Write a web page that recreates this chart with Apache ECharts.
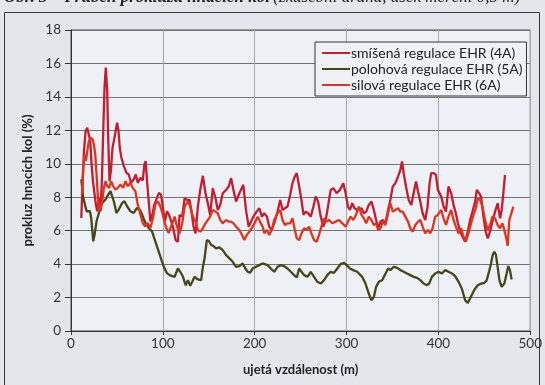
<!DOCTYPE html>
<html>
<head>
<meta charset="utf-8">
<script src="https://cdn.jsdelivr.net/npm/echarts@6/dist/echarts.min.js"></script>
<style>
  html, body { margin: 0; padding: 0; background: #e3e7ec; }
  #chart { width: 545px; height: 385px; }
</style>
</head>
<body>
<div id="chart"></div>
<script>
// Tick labels and axis extents
const xTicks = [0, 100, 200, 300, 400, 500];
const yTicks = [0, 2, 4, 6, 8, 10, 12, 14, 16, 18];

const seriesNames = [
  'smíšená regulace EHR (4A)',
  'polohová regulace EHR (5A)',
  'silová regulace EHR (6A)'
];

// [ujetá vzdálenost (m), prokluz (%)]
const mixed4A = [
  [11.2,6.76],[12.7,8.96],[14.1,10.76],[15.9,11.96],[17.7,12.16],[19.5,12.06],[21.0,11.36],[22.4,9.96],
  [23.9,8.96],[25.7,8.16],[27.1,7.56],[28.6,7.16],[30.4,7.96],[32.2,7.16],[33.6,8.96],[35.1,11.96],
  [36.5,14.56],[37.9,15.76],[39.4,14.36],[40.5,11.56],[41.9,8.96],[43.4,9.56],[45.2,10.96],[47.0,11.46],
  [48.4,11.56],[50.2,12.46],[51.7,11.96],[53.1,10.96],[54.9,10.36],[57.5,9.86],[60.4,9.46],[62.9,9.36],
  [65.4,8.86],[68.3,9.06],[70.5,9.36],[72.7,8.86],[75.6,9.16],[78.1,9.0],[79.9,9.96],[81.3,10.16],
  [82.8,8.96],[84.6,7.76],[86.4,6.56],[88.6,6.96],[90.7,7.56],[93.6,7.96],[95.8,8.26],[98.0,8.16],
  [100.1,7.36],[102.3,6.56],[104.5,7.16],[106.6,6.96],[111.0,6.24],[113.9,5.44],[116.4,5.34],[118.2,6.94],
  [121.1,6.84],[123.7,7.94],[126.2,7.84],[129.1,7.84],[130.9,7.24],[133.4,6.24],[135.6,5.84],[138.1,7.44],
  [140.7,8.44],[143.6,9.28],[146.4,8.24],[149.0,7.64],[151.5,6.94],[154.4,8.54],[157.3,7.94],[159.8,7.24],
  [162.4,7.54],[165.2,8.24],[168.9,8.44],[171.7,8.64],[174.3,9.14],[176.8,8.44],[179.7,7.74],[183.3,8.24],
  [187.6,8.74],[190.5,7.24],[193.4,6.24],[196.0,6.54],[198.5,6.84],[202.1,7.14],[205.0,7.34],[207.9,6.84],
  [210.4,7.04],[213.3,6.84],[215.8,6.24],[218.4,6.04],[221.2,6.44],[224.9,7.14],[227.8,7.84],[230.3,7.24],
  [232.8,7.34],[235.7,7.44],[238.6,8.14],[241.1,8.84],[243.7,9.24],[245.8,9.44],[248.4,8.64],[250.9,7.84],
  [253.1,6.94],[255.6,7.14],[258.1,7.04],[261.0,6.84],[263.9,7.44],[266.4,8.04],[269.0,7.74],[271.9,6.84],
  [274.7,6.24],[277.3,6.64],[279.8,7.44],[282.7,8.44],[285.6,8.54],[289.2,8.24],[292.8,8.44],[296.4,8.84],
  [299.0,8.24],[301.5,7.44],[303.7,7.24],[306.2,7.64],[308.7,7.34],[311.6,7.24],[316.3,7.34],[318.8,7.04],
  [321.4,7.14],[324.2,7.54],[327.1,7.74],[329.7,7.24],[332.2,6.64],[334.4,6.14],[336.9,6.54],[339.4,6.64],
  [342.3,6.44],[345.2,7.24],[347.7,7.84],[350.3,8.64],[353.2,8.84],[356.1,9.24],[358.6,9.64],[360.4,10.14],
  [362.2,9.44],[364.7,8.64],[367.6,7.84],[370.5,7.54],[373.0,8.24],[375.6,8.94],[377.8,8.34],[380.3,7.74],
  [382.8,7.04],[385.7,6.64],[388.2,7.44],[390.4,8.84],[392.2,9.44],[394.7,9.44],[397.3,9.34],[399.4,8.44],
  [403.1,8.04],[405.6,7.44],[408.2,7.14],[411.0,8.64],[413.9,8.24],[416.5,7.54],[419.0,7.04],[421.2,6.44],
  [423.7,5.94],[426.2,5.64],[429.1,5.34],[432.0,5.94],[434.5,6.64],[437.1,7.14],[440.0,7.74],[441.8,8.44],
  [444.3,8.24],[446.5,8.04],[449.0,6.84],[451.5,5.94],[453.7,5.54],[456.2,5.94],[458.8,6.54],[461.7,7.14],
  [464.5,7.64],[467.1,6.74],[468.9,7.24],[470.7,8.24],[472.5,9.34]
];

const position5A = [
  [11.2,9.06],[13.4,7.96],[14.8,7.86],[17.0,7.16],[18.4,7.26],[20.6,7.16],[22.0,6.76],[24.2,5.36],
  [25.7,5.76],[27.8,6.56],[30.4,7.06],[34.0,7.66],[37.6,7.86],[40.5,8.16],[43.0,8.36],[44.8,8.26],
  [46.6,7.76],[49.5,7.06],[52.0,7.26],[55.7,7.66],[58.2,7.76],[61.1,7.46],[64.7,7.16],[68.3,7.06],
  [71.9,7.36],[74.8,7.26],[77.4,6.96],[81.0,6.46],[84.6,6.16],[88.2,5.96],[91.8,5.36],[95.4,4.76],
  [99.0,4.16],[101.6,3.76],[104.5,3.46],[107.4,3.34],[112.8,3.24],[116.4,3.74],[119.0,3.54],[121.9,3.24],
  [124.8,2.74],[127.3,3.04],[129.8,2.70],[132.0,2.94],[134.5,3.24],[138.1,3.08],[141.7,3.04],[143.6,3.84],
  [145.4,4.34],[147.9,5.44],[150.1,5.38],[152.6,5.14],[155.1,5.08],[158.0,4.94],[161.6,5.0],[165.2,4.84],
  [168.9,4.54],[172.5,4.34],[176.1,4.14],[179.7,3.84],[183.3,3.88],[186.9,4.04],[189.8,3.74],[192.4,3.54],
  [194.9,3.48],[197.8,3.74],[201.4,3.84],[205.0,3.94],[208.6,4.04],[210.4,4.08],[214.0,3.94],[217.6,3.74],
  [221.2,3.54],[224.9,3.84],[228.5,3.94],[232.1,3.88],[235.7,3.74],[239.3,3.54],[242.9,3.34],[245.8,3.2],
  [248.4,3.74],[250.9,3.54],[253.8,3.34],[257.4,3.24],[261.0,3.54],[264.6,3.24],[268.2,2.94],[271.9,2.84],
  [275.5,3.04],[279.1,3.34],[282.7,3.54],[286.3,3.48],[289.9,3.74],[293.5,4.0],[297.2,4.08],[300.1,3.94],
  [303.7,3.74],[307.3,3.64],[311.6,3.54],[313.4,3.44],[317.0,3.24],[320.6,2.84],[324.2,2.24],[327.1,1.84],
  [329.7,2.04],[332.2,2.64],[335.1,2.94],[338.7,3.04],[341.6,3.34],[345.2,3.74],[347.7,3.64],[351.4,3.84],
  [355.0,3.78],[358.6,3.64],[362.2,3.54],[365.8,3.44],[369.4,3.34],[373.0,3.24],[376.7,3.18],[380.3,3.04],
  [383.9,2.84],[387.5,2.74],[390.0,2.84],[392.9,3.24],[396.5,3.44],[400.2,3.54],[403.8,3.44],[407.4,3.64],
  [411.0,3.54],[414.7,3.44],[418.3,3.28],[421.9,2.94],[425.5,2.54],[429.1,1.84],[432.0,1.68],[434.5,1.94],
  [437.1,2.24],[440.0,2.54],[442.9,2.74],[446.5,2.84],[450.1,2.88],[452.6,3.04],[455.1,3.54],[457.3,4.04],
  [459.1,4.54],[460.9,4.74],[462.7,4.54],[464.5,3.84],[466.4,3.04],[468.9,2.64],[471.8,2.84],[474.3,3.44],
  [476.1,3.88],[477.9,3.64],[479.7,3.08]
];

const force6A = [
  [11.9,8.16],[13.4,9.76],[14.8,10.56],[16.3,10.16],[17.7,10.76],[19.5,11.36],[21.3,11.56],[23.5,11.46],
  [24.9,11.16],[26.4,10.56],[27.8,9.36],[29.3,7.96],[30.7,7.16],[32.2,7.3],[34.0,7.76],[35.8,8.56],
  [37.6,8.96],[39.4,8.66],[41.6,8.56],[43.7,8.96],[45.9,8.66],[48.4,8.46],[51.0,8.56],[53.9,8.76],
  [56.8,8.56],[59.3,8.96],[61.8,8.66],[64.7,8.86],[67.2,8.56],[70.1,8.36],[72.7,7.56],[75.6,6.96],
  [78.1,6.46],[80.6,6.26],[83.5,6.46],[86.4,6.16],[89.3,6.76],[91.8,7.56],[94.4,7.76],[96.5,7.56],
  [99.0,7.16],[101.6,6.56],[103.8,6.16],[106.3,5.86],[110.3,6.44],[112.8,6.84],[115.4,6.24],[118.2,5.84],
  [121.1,6.44],[123.7,7.44],[127.3,7.74],[129.8,7.44],[132.7,6.84],[135.6,6.54],[138.1,6.04],[140.7,5.94],
  [143.6,6.14],[146.4,6.44],[149.0,6.64],[151.5,6.84],[154.4,7.24],[157.3,7.14],[159.8,7.04],[162.4,6.64],
  [165.2,6.44],[168.9,6.64],[171.7,6.54],[174.3,6.54],[176.8,6.44],[179.7,6.24],[183.3,6.04],[186.2,5.74],
  [188.7,5.44],[191.3,5.74],[194.2,5.94],[197.8,6.24],[200.7,6.54],[203.2,6.84],[205.7,6.54],[208.6,6.24],
  [210.4,5.84],[213.3,6.04],[215.8,5.74],[218.4,6.04],[221.2,6.64],[224.9,7.04],[227.8,7.24],[230.3,6.64],
  [232.8,6.34],[235.7,6.44],[238.6,6.44],[241.1,6.74],[243.7,6.04],[245.8,5.54],[248.4,5.44],[250.9,5.84],
  [253.8,6.14],[256.7,6.04],[259.2,6.24],[261.7,5.84],[264.6,5.44],[267.5,5.34],[270.0,5.74],[272.6,6.24],
  [275.5,6.74],[278.4,6.54],[280.9,6.64],[284.5,6.44],[288.1,6.54],[291.7,6.64],[295.4,6.44],[299.0,6.24],
  [301.5,6.54],[304.4,6.84],[307.3,6.64],[310.2,6.94],[313.4,7.44],[316.3,6.94],[318.8,6.74],[321.4,6.44],
  [324.2,6.84],[327.1,6.64],[329.7,6.34],[332.2,6.44],[334.4,6.04],[336.9,6.14],[339.4,6.54],[342.3,6.34],
  [345.2,7.04],[347.7,7.64],[350.3,7.14],[353.2,7.24],[356.1,7.34],[358.6,7.14],[361.1,7.14],[364.0,6.84],
  [366.9,6.54],[369.4,6.14],[372.0,5.94],[374.9,6.34],[377.8,6.54],[380.3,6.64],[382.8,6.24],[385.7,5.84],
  [388.6,6.04],[391.1,5.84],[393.7,6.14],[396.5,6.84],[399.4,6.94],[403.1,7.24],[405.6,6.74],[408.2,6.34],
  [411.0,6.84],[413.9,7.24],[416.5,6.64],[419.0,6.24],[421.9,5.84],[424.8,6.14],[427.3,5.64],[429.8,5.34],
  [432.7,5.84],[435.6,6.44],[438.2,6.94],[440.7,7.34],[442.9,7.94],[445.4,7.84],[447.9,7.44],[450.8,6.64],
  [453.7,6.04],[456.2,6.34],[458.8,6.84],[461.7,6.74],[464.5,6.34],[467.1,6.14],[469.6,6.44],[471.8,6.04],
  [474.3,5.44],[475.4,5.08],[477.2,6.64],[479.0,6.74],[481.6,7.44]
];

const FONT = 'Lato, "Open Sans", sans-serif';
const chart = echarts.init(document.getElementById('chart'), null, { renderer: 'canvas' });

function lineSeries(name, data, color) {
  return {
    name: name,
    type: 'line',
    data: data,
    showSymbol: false,
    symbol: 'none',
    lineStyle: { color: color, width: 2.3 },
    itemStyle: { color: color },
    animation: false
  };
}

chart.setOption({
  backgroundColor: '#e3e7ec',
  animation: false,
  textStyle: { fontFamily: FONT },
  graphic: [
    {
      type: 'rect',
      shape: { x: 4.5, y: 12.5, width: 535, height: 380 },
      style: { fill: 'none', stroke: '#3a3a3a', lineWidth: 1 },
      silent: true
    },
    {
      type: 'text',
      left: 4,
      top: -11,
      style: {
        text: '{b|Obr. 3 – Průběh prokluzu hnacích kol} {n|(zkušební dráha, úsek měření 0,5 m)}',
        rich: {
          b: { font: 'italic bold 17px "Liberation Serif"', fill: '#222' },
          n: { font: 'italic 17px "Liberation Serif"', fill: '#222' }
        }
      },
      silent: true
    }
  ],
  grid: {
    left: 71, right: 13, top: 30, bottom: 54,
    show: true,
    backgroundColor: '#edf0f4',
    borderColor: '#4a4a4a',
    borderWidth: 1
  },
  legend: {
    orient: 'vertical',
    left: 315, top: 42,
    padding: [3, 4, 3, 7],
    itemGap: 0,
    itemWidth: 28,
    itemHeight: 2,
    icon: 'rect',
    backgroundColor: '#eef1f5',
    borderColor: '#333',
    borderWidth: 1,
    textStyle: { fontFamily: FONT, fontSize: 14, color: '#222', lineHeight: 16, padding: [0, 0, 0, -4] },
    data: seriesNames
  },
  xAxis: {
    type: 'value',
    min: xTicks[0], max: xTicks[xTicks.length - 1], interval: 100,
    name: 'ujetá vzdálenost (m)',
    nameLocation: 'middle',
    nameGap: 32,
    nameTextStyle: { fontFamily: FONT, fontSize: 13, fontWeight: 'bold', color: '#222' },
    axisLine: { show: true, onZero: false, lineStyle: { color: '#333', width: 1 } },
    axisTick: { show: true, length: 4, lineStyle: { color: '#333' } },
    axisLabel: {
      fontFamily: FONT, fontSize: 13.5, color: '#333', margin: 6,
      alignMinLabel: 'center', alignMaxLabel: 'center'
    },
    splitLine: { show: true, lineStyle: { color: '#a3a8b0', width: 1 } }
  },
  yAxis: {
    type: 'value',
    min: yTicks[0], max: yTicks[yTicks.length - 1], interval: 2,
    name: 'prokluz hnacích kol (%)',
    nameLocation: 'middle',
    nameGap: 35,
    nameRotate: 90,
    nameTextStyle: { fontFamily: FONT, fontSize: 13, fontWeight: 'bold', color: '#222' },
    axisLine: { show: true, lineStyle: { color: '#333', width: 1 } },
    axisTick: { show: true, length: 6, lineStyle: { color: '#333' } },
    axisLabel: {
      fontFamily: FONT, fontSize: 13.5, color: '#333', margin: 10,
      verticalAlignMinLabel: 'middle', verticalAlignMaxLabel: 'middle'
    },
    splitLine: { show: true, lineStyle: { color: '#737373', width: 1 } }
  },
  series: [
    lineSeries(seriesNames[0], mixed4A, '#c41c30'),
    lineSeries(seriesNames[1], position5A, '#474619'),
    lineSeries(seriesNames[2], force6A, '#e0341e')
  ]
});
</script>
</body>
</html>
